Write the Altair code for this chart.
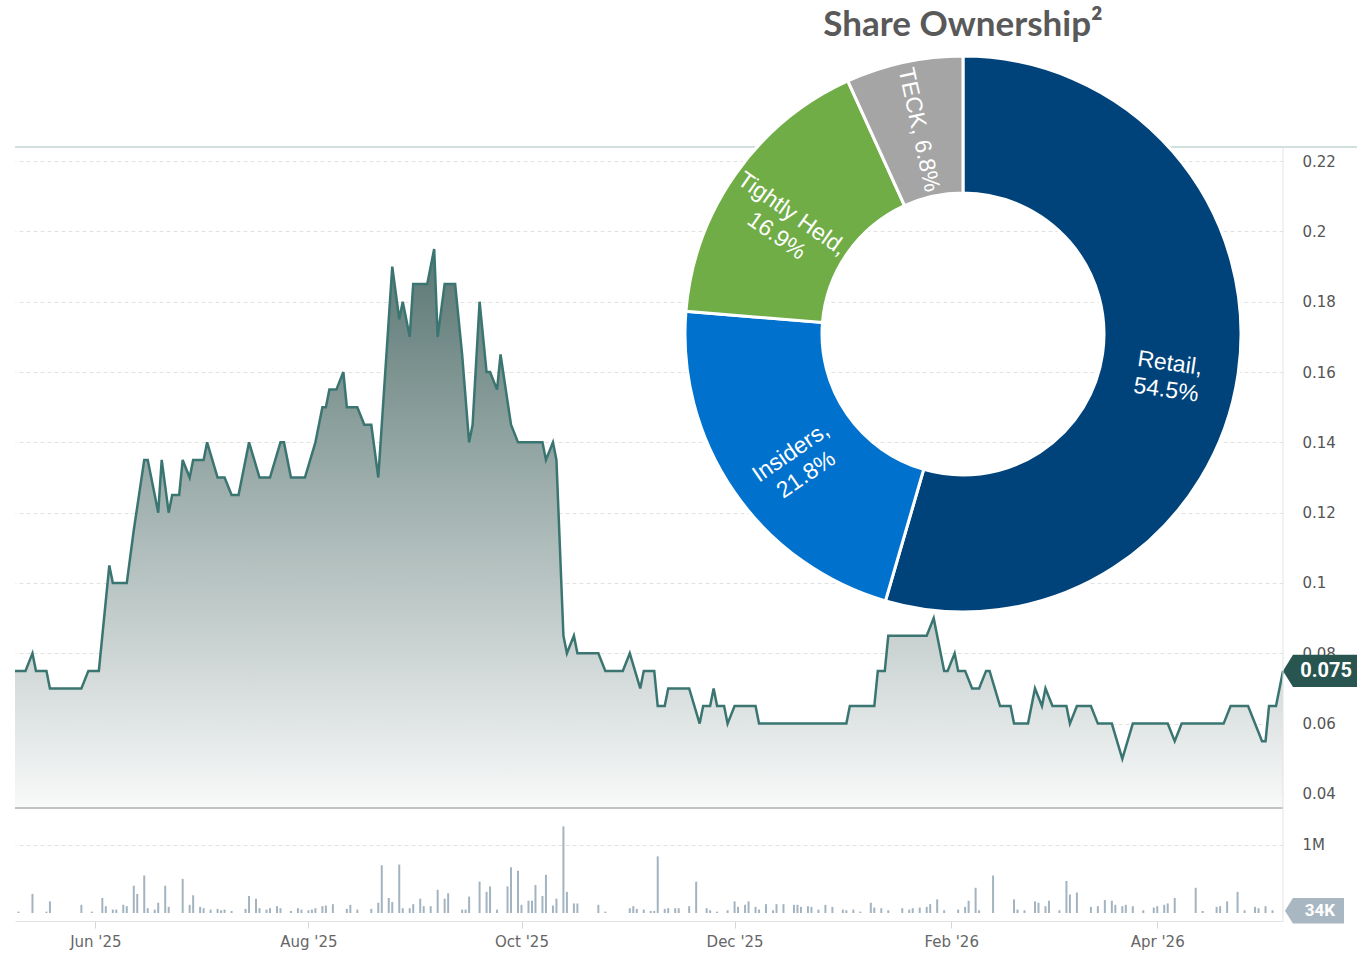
import altair as alt
import pandas as pd

# ---------------- data ----------------
price_dates = [
    "2025-05-09", "2025-05-12", "2025-05-14", "2025-05-15", "2025-05-18", "2025-05-19", "2025-05-28", "2025-05-30",
    "2025-06-02", "2025-06-05", "2025-06-06", "2025-06-10", "2025-06-12", "2025-06-15", "2025-06-16", "2025-06-18",
    "2025-06-19", "2025-06-20", "2025-06-22", "2025-06-23", "2025-06-25", "2025-06-26", "2025-06-28", "2025-06-29",
    "2025-07-02", "2025-07-03", "2025-07-06", "2025-07-08", "2025-07-10", "2025-07-12", "2025-07-15", "2025-07-18",
    "2025-07-21", "2025-07-24", "2025-07-25", "2025-07-27", "2025-07-31", "2025-08-03", "2025-08-05", "2025-08-06",
    "2025-08-07", "2025-08-09", "2025-08-11", "2025-08-12", "2025-08-15", "2025-08-17", "2025-08-19", "2025-08-21",
    "2025-08-25", "2025-08-27", "2025-08-28", "2025-08-30", "2025-08-31", "2025-09-04", "2025-09-06", "2025-09-07",
    "2025-09-09", "2025-09-12", "2025-09-14", "2025-09-16", "2025-09-17", "2025-09-19", "2025-09-21", "2025-09-22",
    "2025-09-24", "2025-09-25", "2025-09-28", "2025-09-30", "2025-10-07", "2025-10-08", "2025-10-10", "2025-10-11",
    "2025-10-13", "2025-10-14", "2025-10-16", "2025-10-17", "2025-10-23", "2025-10-25", "2025-10-30", "2025-11-01",
    "2025-11-04", "2025-11-05", "2025-11-08", "2025-11-09", "2025-11-11", "2025-11-12", "2025-11-18", "2025-11-21",
    "2025-11-22", "2025-11-24", "2025-11-25", "2025-11-26", "2025-11-28", "2025-11-29", "2025-12-01", "2025-12-07",
    "2025-12-08", "2026-01-02", "2026-01-03", "2026-01-10", "2026-01-11", "2026-01-13", "2026-01-14", "2026-01-25",
    "2026-01-27", "2026-01-28", "2026-01-30", "2026-01-31", "2026-02-02", "2026-02-03", "2026-02-05", "2026-02-07",
    "2026-02-09", "2026-02-11", "2026-02-12", "2026-02-15", "2026-02-18", "2026-02-19", "2026-02-23", "2026-02-25",
    "2026-02-27", "2026-02-28", "2026-03-02", "2026-03-06", "2026-03-07", "2026-03-09", "2026-03-13", "2026-03-15",
    "2026-03-19", "2026-03-22", "2026-03-25", "2026-04-04", "2026-04-06", "2026-04-08", "2026-04-20", "2026-04-22",
    "2026-04-27", "2026-05-01", "2026-05-02", "2026-05-03", "2026-05-05", "2026-05-07",
]
price_values = [
    0.075, 0.075, 0.080, 0.075, 0.075, 0.070, 0.070, 0.075,
    0.075, 0.105, 0.100, 0.100, 0.115, 0.135, 0.135, 0.125,
    0.120, 0.135, 0.120, 0.125, 0.125, 0.135, 0.130, 0.135,
    0.135, 0.140, 0.130, 0.130, 0.125, 0.125, 0.140, 0.130,
    0.130, 0.140, 0.140, 0.130, 0.130, 0.140, 0.150, 0.150,
    0.155, 0.155, 0.160, 0.150, 0.150, 0.145, 0.145, 0.130,
    0.190, 0.175, 0.180, 0.170, 0.185, 0.185, 0.195, 0.170,
    0.185, 0.185, 0.165, 0.140, 0.145, 0.180, 0.160, 0.160,
    0.155, 0.165, 0.145, 0.140, 0.140, 0.135, 0.140, 0.135,
    0.085, 0.080, 0.085, 0.080, 0.080, 0.075, 0.075, 0.080,
    0.070, 0.075, 0.075, 0.065, 0.065, 0.070, 0.070, 0.060,
    0.065, 0.065, 0.070, 0.065, 0.065, 0.060, 0.065, 0.065,
    0.060, 0.060, 0.065, 0.065, 0.075, 0.075, 0.085, 0.085,
    0.090, 0.085, 0.075, 0.075, 0.080, 0.075, 0.075, 0.070,
    0.070, 0.075, 0.075, 0.065, 0.065, 0.060, 0.060, 0.070,
    0.065, 0.070, 0.065, 0.065, 0.060, 0.065, 0.065, 0.060,
    0.060, 0.050, 0.060, 0.060, 0.055, 0.060, 0.060, 0.065,
    0.065, 0.055, 0.055, 0.065, 0.065, 0.075,
]

vol_dates = [
    "2025-05-10", "2025-05-14", "2025-05-18", "2025-05-19", "2025-05-28", "2025-05-31", "2025-06-03", "2025-06-04",
    "2025-06-06", "2025-06-07", "2025-06-09", "2025-06-10", "2025-06-12", "2025-06-13", "2025-06-15", "2025-06-16",
    "2025-06-18", "2025-06-19", "2025-06-21", "2025-06-22", "2025-06-26", "2025-06-28", "2025-06-29", "2025-07-01",
    "2025-07-02", "2025-07-04", "2025-07-06", "2025-07-07", "2025-07-08", "2025-07-10", "2025-07-14", "2025-07-15",
    "2025-07-17", "2025-07-18", "2025-07-20", "2025-07-21", "2025-07-23", "2025-07-24", "2025-07-27", "2025-07-29",
    "2025-07-30", "2025-08-01", "2025-08-02", "2025-08-03", "2025-08-05", "2025-08-06", "2025-08-08", "2025-08-12",
    "2025-08-13", "2025-08-15", "2025-08-19", "2025-08-21", "2025-08-22", "2025-08-24", "2025-08-25", "2025-08-27",
    "2025-08-28", "2025-08-30", "2025-08-31", "2025-09-02", "2025-09-03", "2025-09-05", "2025-09-07", "2025-09-09",
    "2025-09-10", "2025-09-14", "2025-09-15", "2025-09-16", "2025-09-19", "2025-09-21", "2025-09-22", "2025-09-24",
    "2025-09-27", "2025-09-28", "2025-09-30", "2025-10-01", "2025-10-03", "2025-10-04", "2025-10-05", "2025-10-07",
    "2025-10-08", "2025-10-10", "2025-10-11", "2025-10-13", "2025-10-14", "2025-10-16", "2025-10-17", "2025-10-23",
    "2025-10-25", "2025-11-01", "2025-11-02", "2025-11-03", "2025-11-05", "2025-11-07", "2025-11-08", "2025-11-09",
    "2025-11-11", "2025-11-12", "2025-11-14", "2025-11-15", "2025-11-18", "2025-11-20", "2025-11-23", "2025-11-24",
    "2025-11-26", "2025-11-29", "2025-12-01", "2025-12-02", "2025-12-04", "2025-12-05", "2025-12-07", "2025-12-08",
    "2025-12-10", "2025-12-12", "2025-12-13", "2025-12-15", "2025-12-18", "2025-12-19", "2025-12-20", "2025-12-22",
    "2025-12-23", "2025-12-25", "2025-12-27", "2025-12-29", "2026-01-01", "2026-01-02", "2026-01-04", "2026-01-06",
    "2026-01-09", "2026-01-10", "2026-01-12", "2026-01-14", "2026-01-18", "2026-01-20", "2026-01-21", "2026-01-23",
    "2026-01-25", "2026-01-26", "2026-01-28", "2026-01-30", "2026-02-03", "2026-02-05", "2026-02-06", "2026-02-08",
    "2026-02-09", "2026-02-13", "2026-02-19", "2026-02-20", "2026-02-22", "2026-02-25", "2026-02-26", "2026-02-28",
    "2026-03-01", "2026-03-04", "2026-03-06", "2026-03-07", "2026-03-09", "2026-03-13", "2026-03-15", "2026-03-17",
    "2026-03-19", "2026-03-20", "2026-03-22", "2026-03-23", "2026-03-25", "2026-03-28", "2026-03-31", "2026-04-01",
    "2026-04-03", "2026-04-04", "2026-04-06", "2026-04-12", "2026-04-14", "2026-04-18", "2026-04-19", "2026-04-21",
    "2026-04-24", "2026-04-26", "2026-04-29", "2026-04-30", "2026-05-02", "2026-05-04",
]
vol_thousands = [
    20, 280, 20, 170, 120, 20, 220, 100,
    50, 50, 120, 100, 400, 280, 550, 70,
    50, 150, 400, 90, 500, 120, 260, 90,
    70, 50, 60, 40, 50, 30, 60, 250,
    210, 70, 50, 70, 100, 70, 30, 70,
    50, 40, 50, 70, 100, 110, 130, 60,
    120, 50, 60, 150, 700, 220, 160, 710,
    70, 70, 130, 210, 100, 100, 340, 210,
    290, 50, 50, 240, 460, 310, 390, 50,
    390, 670, 620, 120, 180, 180, 410, 250,
    560, 110, 210, 1270, 310, 140, 140, 120,
    20, 70, 100, 60, 50, 30, 30, 830,
    60, 70, 70, 70, 100, 460, 70, 40,
    20, 40, 170, 90, 120, 170, 90, 50,
    130, 40, 130, 130, 120, 120, 90, 100,
    90, 50, 120, 90, 50, 40, 50, 20,
    150, 80, 70, 40, 70, 50, 70, 80,
    90, 130, 200, 40, 50, 90, 180, 370,
    40, 550, 200, 50, 40, 170, 150, 100,
    180, 40, 470, 270, 300, 90, 100, 190,
    180, 120, 100, 120, 100, 40, 80, 100,
    120, 140, 220, 370, 30, 90, 100, 170,
    310, 40, 90, 70, 100, 40,
]

own_names = ["Retail", "Insiders", "Tightly Held", "TECK"]
own_pct = [54.5, 21.8, 16.9, 6.8]
own_sep = [",\n", ",\n", ",\n", ", "]
own_colors = ["#00437b", "#0071cd", "#70ad47", "#a5a5a5"]

price_ticks = [0.04, 0.06, 0.08, 0.1, 0.12, 0.14, 0.16, 0.18, 0.2, 0.22]
month_ticks = [(2025, 6), (2025, 8), (2025, 10), (2025, 12), (2026, 2), (2026, 4)]
last_price = 0.075
last_price_label = "0.075"
last_volume = 34000
last_volume_label = "34K"
vol_tick = 1000000
vol_tick_label = "1M"
title_text = "Share Ownership²"

# ---------------- layout constants ----------------
W, H = 1268, 661
PRICE_MIN, PRICE_MAX = 0.036, 0.224
VOL_MAX = 1510000
CX, CY = 948, 187
AXIS_FONT = "DejaVu Sans"

price_df = pd.DataFrame({"date": [d + "T00:00:00" for d in price_dates], "price": price_values})
vol_df = pd.DataFrame({"date": [d + "T00:00:00" for d in vol_dates], "vol": [v * 1000 for v in vol_thousands]})

# donut table with label rotation along the radius
rows = []
cum = 0.0
total = sum(own_pct)
for i, (n, p, s) in enumerate(zip(own_names, own_pct, own_sep)):
    mid = (cum + p / 2) / total
    cum += p
    a = mid * 360 - 90
    rot = a if -90 <= a <= 90 else a - 180
    rot = rot % 360
    rows.append({"idx": i, "name": n, "pct": p, "text": f"{n}{s}{p}%", "rot": rot})
own_df = pd.DataFrame(rows)

one = pd.DataFrame({"k": [0]})

# ---------------- encodings ----------------
x_enc = alt.X(
    "date:T",
    scale=alt.Scale(
        domain=[alt.DateTime(year=2025, month=5, date=9), alt.DateTime(year=2026, month=5, date=7)],
        padding=0, nice=False,
    ),
    axis=alt.Axis(
        values=[alt.DateTime(year=y, month=m, date=1) for y, m in month_ticks],
        format="%b '%y", offset=113, tickSize=7, tickColor="#d6d6d6", domainColor="#e3e3e3",
        labelFont=AXIS_FONT, labelFontSize=15, labelColor="#666666", labelPadding=6,
        grid=False, title=None, labelFlush=False,
    ),
)

y_price = alt.Y(
    "price:Q",
    scale=alt.Scale(domain=[PRICE_MIN, PRICE_MAX], nice=False, zero=False),
    axis=alt.Axis(
        orient="right", values=price_ticks, format="~g", grid=True, gridDash=[4, 3], gridColor="#e2e2e2",
        domain=False, ticks=False, labelPadding=19, labelFont=AXIS_FONT, labelFontSize=15,
        labelColor="#555555", title=None,
    ),
)

y_vol = alt.Y(
    "vol:Q",
    scale=alt.Scale(domain=[0, VOL_MAX], range=[766, 663], nice=False, zero=True),
    axis=alt.Axis(
        orient="right", values=[vol_tick], labelExpr=f"'{vol_tick_label}'", grid=True, gridDash=[4, 3],
        gridColor="#e2e2e2", domain=False, ticks=False, labelPadding=19, labelFont=AXIS_FONT,
        labelFontSize=15, labelColor="#555555", title=None,
    ),
)

# ---------------- price panel ----------------
area = alt.Chart(price_df).mark_area(
    color=alt.Gradient(
        gradient="linear",
        stops=[alt.GradientStop(color="#f8f9f9", offset=0), alt.GradientStop(color="#4c6b67", offset=1)],
        x1=1, x2=1, y1=1, y2=0,
    ),
    fillOpacity=0.92,
    line=alt.OverlayMarkDef(color="#3a7571", strokeWidth=2.5),
).encode(x=x_enc, y=y_price, y2=alt.datum(PRICE_MIN))

pbadge_df = pd.DataFrame({"price": [last_price], "label": [last_price_label]})
pbadge = alt.Chart(pbadge_df).mark_point(
    shape="M-1,0L-0.74,-0.416L1,-0.416L1,0.416L-0.74,0.416Z", size=5929, filled=True,
    color="#285550", opacity=1, strokeWidth=0,
).encode(x=alt.value(1306.5), y=y_price)
ptext = alt.Chart(pbadge_df).mark_text(
    font="Roboto", fontWeight="bold", fontSize=20, color="white", align="center", baseline="middle",
).encode(x=alt.value(1311), y=y_price, text="label:N")

price_layer = alt.layer(area, pbadge, ptext)

# ---------------- volume panel ----------------
bars = alt.Chart(vol_df).mark_bar(size=2, color="#a3b4c0").encode(x=x_enc, y=y_vol)
vbadge_df = pd.DataFrame({"vol": [last_volume], "label": [last_volume_label]})
vbadge = alt.Chart(vbadge_df).mark_point(
    shape="M-1,0L-0.73,-0.434L1,-0.434L1,0.434L-0.73,0.434Z", size=3481, filled=True,
    color="#a8b7c2", opacity=1, strokeWidth=0,
).encode(x=alt.value(1299.5), y=y_vol)
vtext = alt.Chart(vbadge_df).mark_text(
    font="Roboto", fontWeight="bold", fontSize=17, color="white", align="center", baseline="middle",
).encode(x=alt.value(1305), y=y_vol, text="label:N")
vol_layer = alt.layer(bars, vbadge, vtext)

# ---------------- frame lines ----------------
top_rule = alt.Chart(one).mark_rule(color="#cfe0df", strokeWidth=2).encode(
    x=alt.value(0), x2=alt.value(1342), y=alt.value(0))
bottom_rule = alt.Chart(one).mark_rule(color="#c2c2c2", strokeWidth=2).encode(
    x=alt.value(0), x2=alt.value(W), y=alt.value(H))
right_rule = alt.Chart(one).mark_rule(color="#e3e3e3", strokeWidth=1).encode(
    x=alt.value(W), y=alt.value(0), y2=alt.value(774))

# ---------------- donut ----------------
arcs = alt.Chart(own_df).mark_arc(innerRadius=141, outerRadius=278, stroke="white", strokeWidth=3).encode(
    theta=alt.Theta("pct:Q", stack=True),
    color=alt.Color("name:N", scale=alt.Scale(domain=own_names, range=own_colors), legend=None),
    order=alt.Order("idx:Q"),
    x=alt.value(CX), y=alt.value(CY),
)
labels = alt.Chart(own_df).mark_text(
    radius=209, font="Liberation Sans", fontSize=23, color="white", align="center", baseline="middle",
    lineBreak="\n", lineHeight=27,
).encode(
    theta=alt.Theta("pct:Q", stack=True),
    detail="name:N",
    order=alt.Order("idx:Q"),
    text="text:N",
    angle=alt.Angle("rot:Q", scale=None),
    x=alt.value(CX), y=alt.value(CY),
)
donut = alt.layer(arcs, labels)

title = alt.Chart(pd.DataFrame({"t": [title_text]})).mark_text(
    font="Lato", fontWeight="bold", fontSize=35, color="#595959", align="center", baseline="alphabetic",
).encode(x=alt.value(CX), y=alt.value(36 - 147), text="t:N")

chart = alt.layer(
    top_rule, price_layer, vol_layer, bottom_rule, right_rule, donut, title
).resolve_scale(y="independent").properties(
    width=W, height=H,
    padding={"left": 15, "top": 147, "right": 74, "bottom": 146},
    autosize=alt.AutoSizeParams(type="none"),
    background="white",
).configure_view(stroke=None)

chart.save("out.html", embed_options={"renderer": "svg", "actions": False})
